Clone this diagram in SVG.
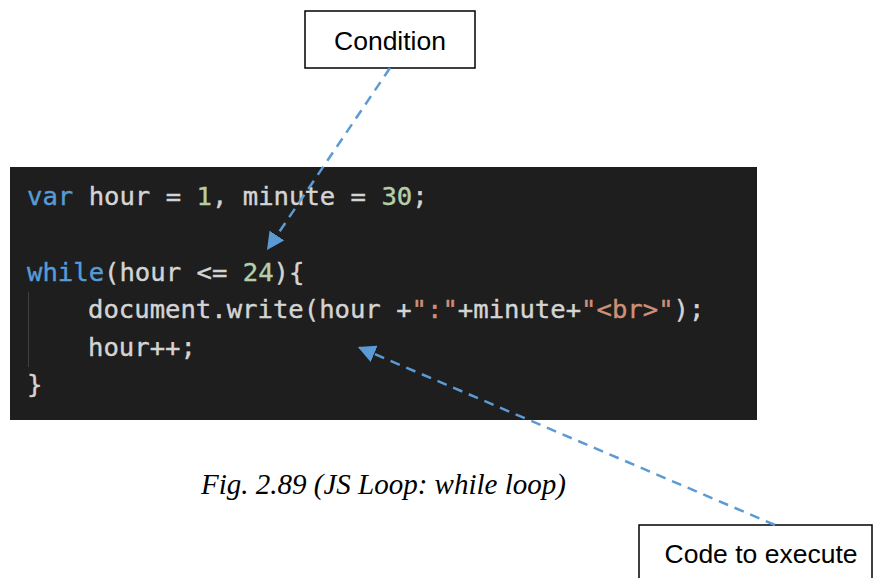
<svg xmlns="http://www.w3.org/2000/svg" width="874" height="578" viewBox="0 0 874 578">
<style>
.box{fill:#fff;stroke:#000;stroke-width:1.5}
.lbl{font-family:"Liberation Sans","Open Sans",sans-serif;font-size:26.5px;fill:#000;text-anchor:middle}
.code{font-family:"DejaVu Sans Mono","Liberation Mono",monospace;font-size:25.6px;fill:#d4d4d4;stroke:#d4d4d4;stroke-width:0.4}
.kw{fill:#569cd6;stroke:#569cd6}
.num{fill:#b5cea8;stroke:#b5cea8}
.str{fill:#ce9178;stroke:#ce9178}
.conn{stroke:#5b9bd5;stroke-width:2.5;stroke-dasharray:10 7;fill:none}
.cap{font-family:"Liberation Serif","Times New Roman",serif;font-style:italic;font-size:29px;fill:#000}
</style>
<defs>
<marker id="ah" viewBox="0 0 10 10" refX="10" refY="5" markerWidth="7" markerHeight="7" markerUnits="strokeWidth" orient="auto">
<path d="M0,0 L10,5 L0,10 z" fill="#5b9bd5"/>
</marker>
</defs>
<rect width="874" height="578" fill="#fff"/>
<g id="code">
<rect x="10" y="167" width="747" height="253" fill="#1e1e1e"/>
<line x1="28.5" y1="292" x2="28.5" y2="367" stroke="#404040" stroke-width="1"/>
<text class="code" x="27" y="205"><tspan class="kw">var</tspan> hour = <tspan class="num">1</tspan>, minute = <tspan class="num">30</tspan>;</text>
<text class="code" x="27" y="281"><tspan class="kw">while</tspan>(hour &lt;= <tspan class="num">24</tspan>){</text>
<text class="code" x="88" y="318">document.write(hour +<tspan class="str">":"</tspan>+minute+<tspan class="str">"&lt;br&gt;"</tspan>);</text>
<text class="code" x="88" y="356">hour++;</text>
<text class="code" x="27" y="393">}</text>
</g>
<g id="condition">
<rect class="box" x="305" y="11" width="170" height="57"/>
<text class="lbl" x="390" y="50">Condition</text>
</g>
<g id="code-to-execute">
<rect class="box" x="639" y="525" width="233" height="60"/>
<text class="lbl" x="761" y="563">Code to execute</text>
</g>
<g id="caption">
<text class="cap" x="201" y="494">Fig. 2.89 (JS Loop: while loop)</text>
</g>
<g id="connectors">
<line class="conn" x1="390" y1="68" x2="267" y2="250" marker-end="url(#ah)"/>
<line class="conn" x1="775" y1="525" x2="358" y2="347" marker-end="url(#ah)"/>
</g>
</svg>
